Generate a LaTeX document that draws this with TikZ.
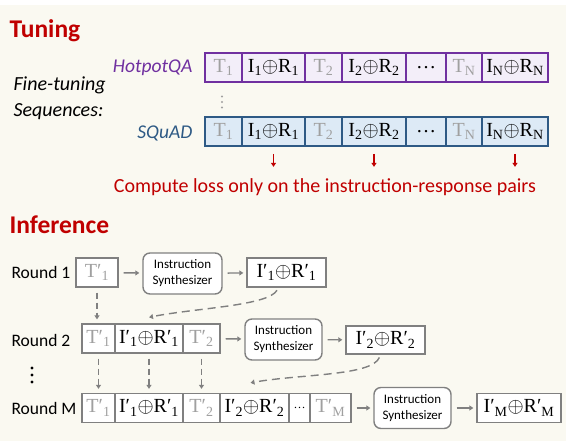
\documentclass[tikz,border=0pt]{standalone}
\usepackage{fontspec}
\setmainfont{Liberation Serif}
\newfontfamily\calibri{Carlito}
\usepackage{tikz}
\usetikzlibrary{arrows.meta}

\definecolor{tunered}{HTML}{C00000}
\definecolor{hotpurple}{HTML}{7030A0}
\definecolor{hotfill}{HTML}{F3EEF9}
\definecolor{squadblue}{HTML}{2E5A85}
\definecolor{squadfill}{HTML}{DDEAF6}
\definecolor{boxgray}{HTML}{808080}
\definecolor{tgray}{HTML}{A0A0A0}
\definecolor{cream}{HTML}{FAF9F1}

\newcommand{\Tg}[1]{\textcolor{tgray}{T\textsubscript{#1}}}
\newcommand{\Tgp}[1]{\textcolor{tgray}{T′\textsubscript{#1}}}
\newcommand{\IR}[1]{I\textsubscript{#1}$\oplus$R\textsubscript{#1}}
\newcommand{\IRp}[1]{I′\textsubscript{#1}$\oplus$R′\textsubscript{#1}}

\tikzset{
  heading/.style={anchor=west, text=tunered, font=\calibri\bfseries\fontsize{25.5}{28}\selectfont},
  sidetext/.style={font=\calibri\fontsize{17.5}{20}\selectfont},
  setname/.style={anchor=east, font=\calibri\itshape\fontsize{19.5}{22}\selectfont},
  cell/.style={draw, rectangle, minimum height=29pt, inner sep=0pt, font=\fontsize{20}{22}\selectfont},
  hotcell/.style={cell, draw=hotpurple, fill=hotfill, line width=1.6pt},
  squadcell/.style={cell, draw=squadblue, fill=squadfill, line width=1.6pt},
  infcell/.style={cell, draw=boxgray, fill=white, line width=1.4pt},
  synth/.style={draw=boxgray, fill=white, line width=1.4pt, rounded corners=7pt,
    minimum width=79pt, minimum height=41pt, align=center, inner sep=2pt,
    font=\calibri\fontsize{13}{16}\selectfont},
  grayarr/.style={-{Triangle[length=4pt,width=5pt]}, boxgray, line width=1.4pt,
    shorten <=5pt, shorten >=3pt},
  dasharr/.style={grayarr, dash pattern=on 6pt off 4pt, shorten >=4pt},
  redarr/.style={-{Triangle[length=4pt,width=5pt]}, tunered, line width=1.3pt}
}

\begin{document}
\begin{tikzpicture}[x=1pt,y=-1pt]
  \useasboundingbox (0,0) rectangle (566,441);
  \fill[cream] (0,5) rectangle (566,441);

  % Tuning
  \node[heading] (tuning) at (6,31) {Tuning};
  \node[anchor=west, align=left, font=\calibri\itshape\fontsize{20}{26}\selectfont]
    (ftseq) at (10,98) {Fine-tuning\\Sequences:};
  \node[setname, text=hotpurple] (hotname) at (196,68) {HotpotQA};
  \node[setname, text=squadblue] (squadname) at (196,133) {SQuAD};

  \foreach \nm/\l/\r/\txt in {h1/205/242/{\Tg{1}}, h2/242/305/{\IR{1}},
      h3/305/342/{\Tg{2}}, h4/342/406/{\IR{2}}, h5/406/446/{\dots},
      h6/446/482/{\Tg{N}}, h7/482/548/{\IR{N}}}
    \node[hotcell, minimum width=\r pt-\l pt] (\nm) at ({(\l+\r)/2},67.5) {\txt};
  \foreach \nm/\l/\r/\txt in {s1/205/242/{\Tg{1}}, s2/242/305/{\IR{1}},
      s3/305/342/{\Tg{2}}, s4/342/406/{\IR{2}}, s5/406/446/{\dots},
      s6/446/482/{\Tg{N}}, s7/482/548/{\IR{N}}}
    \node[squadcell, minimum width=\r pt-\l pt] (\nm) at ({(\l+\r)/2},131.5) {\txt};

  % dots between the two sequences
  \foreach \y in {96.5,102,107.5}
    \fill[tgray] (222,\y) circle (1.1pt);

  \foreach \nm in {s2,s4,s7}
    \draw[redarr] ([yshift=-7pt]\nm.south) -- ([yshift=-20pt]\nm.south);
  \node[font=\calibri\fontsize{20}{22}\selectfont, text=tunered] (loss) at (325,187)
    {Compute loss only on the instruction-response pairs};

  % Inference
  \node[heading] (inference) at (6,225) {Inference};
  \node[sidetext, anchor=west] (round1) at (8,272) {Round 1};
  \node[sidetext, anchor=west] (round2) at (8,340) {Round 2};
  \node[sidetext, anchor=west] (roundm) at (8,408) {Round M};
  \foreach \y in {368,375,382}
    \fill (32,\y) circle (1.7pt);

  % round 1
  \node[infcell, minimum width=42pt] (ra1) at (97,272.5) {\Tgp{1}};
  \node[synth] (syn1) at (182.5,273.5) {Instruction\\Synthesizer};
  \node[infcell, minimum width=79pt] (out1) at (286.5,272.5) {\IRp{1}};

  % round 2
  \foreach \nm/\l/\r/\txt in {b1/82/115/{\Tgp{1}}, b2/115/183/{\IRp{1}}, b3/183/220/{\Tgp{2}}}
    \node[infcell, minimum width=\r pt-\l pt] (\nm) at ({(\l+\r)/2},338.5) {\txt};
  \node[synth, minimum width=77pt] (syn2) at (283.5,339.5) {Instruction\\Synthesizer};
  \node[infcell, minimum width=79pt, minimum height=28pt] (out2) at (385.5,340) {\IRp{2}};

  % round M
  \foreach \nm/\l/\r/\txt in {m1/82/115/{\Tgp{1}}, m2/115/183/{\IRp{1}}, m3/183/220/{\Tgp{2}},
      m4/220/289/{\IRp{2}}, m5/289/310/{\fontsize{12}{12}\selectfont\dots}, m6/310/351/{\Tgp{M}}}
    \node[infcell, minimum width=\r pt-\l pt] (\nm) at ({(\l+\r)/2},408) {\txt};
  \node[synth, minimum width=77pt] (syn3) at (412.5,408) {Instruction\\Synthesizer};
  \node[infcell, minimum width=84pt] (outm) at (519,408) {I′\textsubscript{M}$\oplus$R′\textsubscript{M}};

  \draw[grayarr] (ra1) -- (syn1);
  \draw[grayarr] (syn1) -- (out1);
  \draw[grayarr] (b3) -- (syn2);
  \draw[grayarr] (syn2) -- (out2);
  \draw[grayarr] (m6) -- (syn3);
  \draw[grayarr] (syn3) -- (outm);

  \draw[dasharr] (ra1.south) -- (ra1.south |- b1.north);
  \foreach \u/\v in {b1/m1, b2/m2, b3/m3}
    \draw[dasharr] (\u.south) -- (\v.north);
  \draw[dasharr, dash pattern=on 8pt off 5pt, shorten <=3pt, shorten >=0pt]
    ([xshift=-8pt]out1.south) .. controls (268,306) and (195,308) .. ([yshift=6pt]b2.north);
  \draw[dasharr, dash pattern=on 8pt off 5pt, shorten <=3pt, shorten >=0pt]
    ([xshift=-5pt]out2.south) .. controls (372,376) and (300,374) .. ([xshift=-4pt,yshift=10pt]m4.north);
\end{tikzpicture}
\end{document}
